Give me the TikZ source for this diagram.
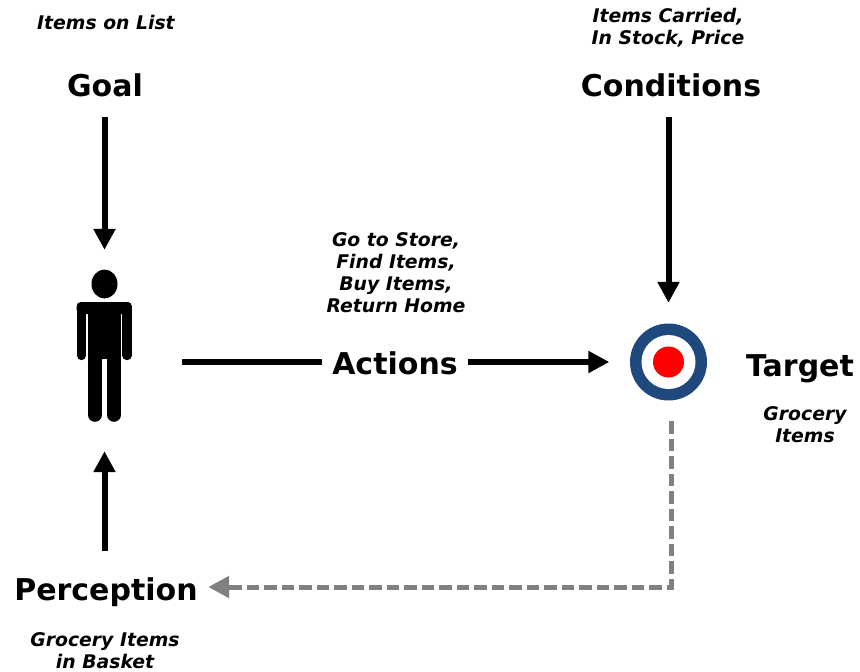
\documentclass[tikz,border=0pt]{standalone}
\usepackage{fontspec}
\setmainfont{DejaVu Sans}
\usetikzlibrary{arrows.meta}
\tikzstyle{heading} = [font=\bfseries\fontsize{30}{34}\selectfont, inner sep=0pt, align=center]
\tikzstyle{sublabel} = [font=\bfseries\itshape\fontsize{18.8}{22}\selectfont, inner sep=0pt, align=center]
\tikzstyle{line} = [draw, line width=6pt, -{Triangle[length=21pt,width=21pt]}]
\tikzstyle{plainline} = [draw, line width=6pt]
\tikzstyle{feedback} = [draw, color=black!50, line width=5pt, dash pattern=on 12.5pt off 5pt, -{Triangle[length=21pt,width=21pt]}]
\begin{document}
\begin{tikzpicture}[x=1pt,y=-1pt]
    \useasboundingbox (0,0) rectangle (860,672);

    \node [heading,minimum height=64pt] (goal) at (105,85) {Goal};
    \node [sublabel] (goalitems) at (106,22) {Items on List};
    \node [heading,minimum height=64pt] (conditions) at (671,85) {Conditions};
    \node [sublabel] (conditionitems) at (668,27.5) {Items Carried,\\In Stock, Price};
    \node [minimum width=155pt,minimum height=201pt,inner sep=0pt] (person) at (104.5,350.5) {};
    \node [heading,minimum width=145pt] (actions) at (395,363) {Actions};
    \node [sublabel] (actionitems) at (396,272.5) {Go to Store,\\Find Items,\\Buy Items,\\Return Home};
    \node [minimum size=118pt,inner sep=0pt] (target) at (668.5,362) {};
    \node [heading] (targetname) at (800,369) {Target};
    \node [sublabel] (targetitems) at (805,425) {Grocery\\Items};
    \node [heading,minimum width=204pt,minimum height=82pt] (perception) at (106,592) {Perception};
    \node [sublabel] (perceptionitems) at (105,650.5) {Grocery Items\\in Basket};
    \coordinate (bend) at (671,587);

    % person
    \fill (104.5,284) ellipse (13 and 14.5);
    \fill [rounded corners=4pt] (76.7,302) rectangle (131.7,314);
    \fill (88,305) rectangle (120.7,358.5);
    \draw [line width=9.4pt,line cap=round] (81.4,307) -- (81.4,355.5);
    \draw [line width=9.4pt,line cap=round] (127,307) -- (127,355.5);
    \draw [line width=13.6pt,line cap=round] (94.8,350) -- (94.8,415);
    \draw [line width=13.6pt,line cap=round] (114,350) -- (114,415);

    % target
    \fill [color={rgb,255:red,31;green,73;blue,125}] (target.center) circle (38.5);
    \fill [white] (target.center) circle (27);
    \fill [red] (target.center) circle (15.5);

    % Draw edges
    \path [line] (goal.south -| person) -- (person.north);
    \path [line] (conditions.south -| target) -- (target.north);
    \path [plainline] (person.east |- target) -- (actions.west |- target);
    \path [line] (actions.east |- target) -- (target);
    \path [line] (perception.north -| person) -- (person.south);
    \path [feedback] (target.south -| bend) -- (bend) -- (bend -| perception.east);

\end{tikzpicture}
\end{document}
